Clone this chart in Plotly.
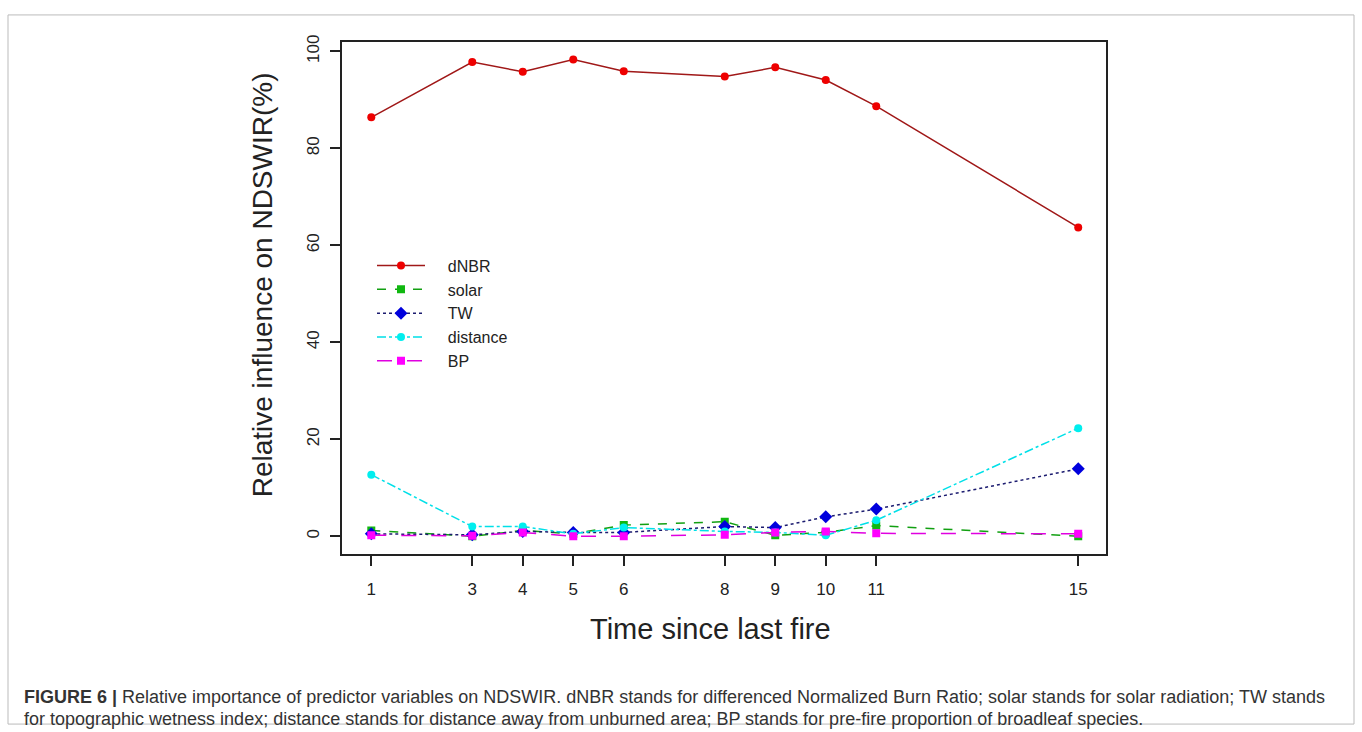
import plotly.graph_objects as go

years = [1, 3, 4, 5, 6, 8, 9, 10, 11, 15]
dNBR = [86.4, 97.8, 95.8, 98.3, 95.9, 94.8, 96.7, 94.1, 88.7, 63.7]
solar = [1.2, 0.0, 1.2, 0.5, 2.3, 3.0, 0.2, 0.8, 2.2, 0.0]
TW = [0.5, 0.3, 1.0, 0.8, 0.8, 2.0, 1.8, 4.0, 5.6, 13.9]
distance = [12.7, 2.0, 2.0, 0.5, 1.8, 1.0, 0.8, 0.2, 3.3, 22.3]
BP = [0.2, 0.1, 0.8, 0.0, 0.0, 0.3, 0.8, 1.0, 0.6, 0.5]
y_ticks = [0, 20, 40, 60, 80, 100]

series = [
    ("dNBR", dNBR, "#a01818", "solid", "#ee0000", "circle", 8),
    ("solar", solar, "#12a012", "dash", "#10b810", "square", 8),
    ("TW", TW, "#1c1c70", "dot", "#0000dd", "diamond", 10),
    ("distance", distance, "#00e0e8", "dashdot", "#00eeee", "circle", 8),
    ("BP", BP, "#e000e0", "longdash", "#ff00ff", "square", 8),
]

PAD = "\u00a0\u00a0\u00a0\u00a0"
fig = go.Figure()
for name, vals, lc, dash, mc, sym, ms in series:
    fig.add_trace(go.Scatter(
        x=years, y=vals, name=PAD + name, mode="lines+markers",
        line=dict(color=lc, dash=dash, width=1.5),
        marker=dict(color=mc, symbol=sym, size=ms),
    ))

W, H = 1362, 732
def px(x):
    return x / W
def py(y):
    return 1 - y / H

TXT = "#222"
fig.update_layout(
    width=W, height=H,
    margin=dict(l=0, r=0, t=0, b=0),
    paper_bgcolor="white", plot_bgcolor="white",
    font=dict(family="Liberation Sans, Arial, sans-serif", color=TXT),
    showlegend=True,
    legend=dict(x=px(372), y=py(244), xanchor="left", yanchor="top",
                font=dict(size=16, color=TXT), bgcolor="rgba(0,0,0,0)",
                tracegroupgap=0, itemwidth=48),
    xaxis=dict(domain=[px(342), px(1106)], range=[0.42, 15.55],
               tickmode="array", tickvals=years, ticktext=[str(v) for v in years],
               ticks="outside", ticklen=11, tickwidth=1.5, tickcolor=TXT,
               ticklabelstandoff=8,
               showline=True, mirror=True, linecolor=TXT, linewidth=1.5,
               showgrid=False, zeroline=False,
               tickfont=dict(size=17, color=TXT)),
    yaxis=dict(domain=[py(552), py(35)], range=[-3.6, 102.0],
               tickmode="array", tickvals=y_ticks, ticktext=[str(v) for v in y_ticks],
               ticks="outside", ticklen=10, tickwidth=1.5, tickcolor=TXT,
               tickangle=-90, ticklabelstandoff=4,
               showline=True, mirror=True, linecolor=TXT, linewidth=1.5,
               showgrid=False, zeroline=False,
               tickfont=dict(size=17, color=TXT)),
)

# axis titles
fig.add_annotation(text="Time since last fire", xref="paper", yref="paper",
                   x=px(710), y=py(628), xanchor="center", yanchor="middle",
                   showarrow=False, font=dict(size=29, color=TXT))
fig.add_annotation(text="Relative influence on NDSWIR(%)", xref="paper", yref="paper",
                   x=px(262), y=py(281), xanchor="center", yanchor="middle",
                   textangle=-90, showarrow=False, font=dict(size=28, color=TXT))

# outer frame
fig.add_shape(type="rect", xref="paper", yref="paper",
              x0=px(8), x1=px(1354), y0=py(724), y1=py(8),
              line=dict(color="#bbbbbb", width=1))

cap1 = ("<b>FIGURE 6 |</b> Relative importance of predictor variables on NDSWIR. dNBR stands for "
        "differenced Normalized Burn Ratio; solar stands for solar radiation; TW stands")
cap2 = ("for topographic wetness index; distance stands for distance away from unburned area; "
        "BP stands for pre-fire proportion of broadleaf species.")
for txt, yp in [(cap1, 697), (cap2, 719)]:
    fig.add_annotation(text=txt, xref="paper", yref="paper", x=px(22), y=py(yp),
                       xanchor="left", yanchor="middle", showarrow=False, align="left",
                       font=dict(size=18, color="#333", family="Liberation Sans, Arial, sans-serif"))

post = ("document.body.style.margin='0';document.body.style.overflow='hidden';"
        "var d=document.getElementById('{plot_id}');d.style.position='fixed';"
        "d.style.left='0px';d.style.top='0px';")
fig.write_html("out.html", post_script=post, config={"displayModeBar": False})
